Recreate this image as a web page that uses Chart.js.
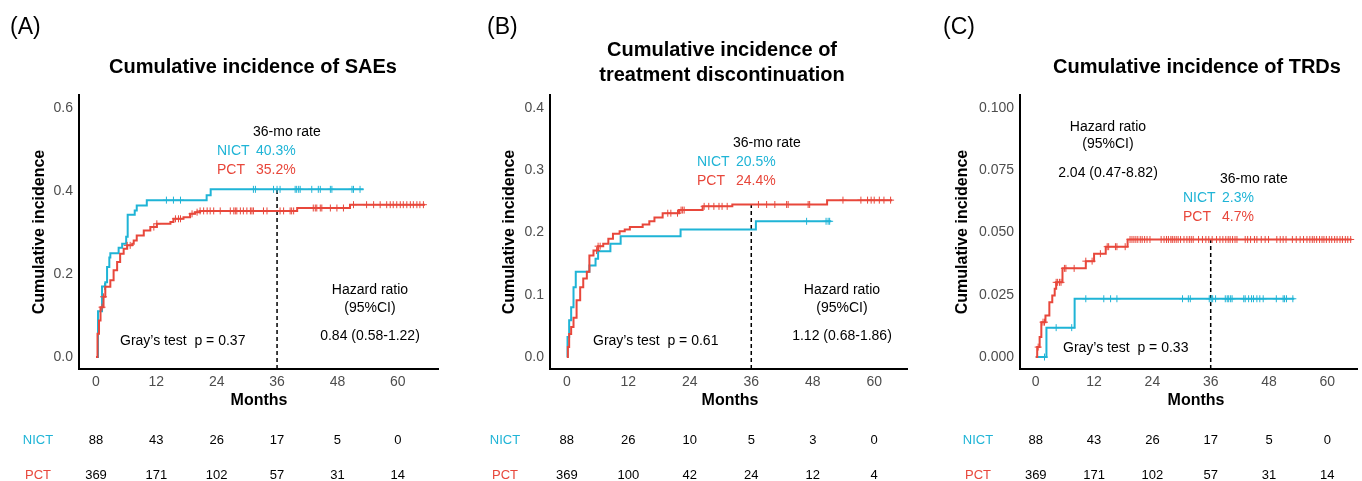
<!DOCTYPE html>
<html>
<head>
<meta charset="utf-8">
<script src="https://cdn.jsdelivr.net/npm/chart.js@4.4.1/dist/chart.umd.min.js"></script>
<style>
  body { margin: 0; background: #fff; width: 1362px; height: 481px; overflow: hidden; position: relative; }
  canvas { position: absolute; top: 0; }
</style>
</head>
<body>
<canvas id="chartA" width="450" height="481" style="left:0px"></canvas>
<canvas id="chartB" width="457" height="481" style="left:455px"></canvas>
<canvas id="chartC" width="450" height="481" style="left:912px"></canvas>
<script>
const monthTicks = [0, 12, 24, 36, 48, 60];

// (A) serious adverse events
const saeNictTime = [0, 0.4, 1.2, 1.85, 2.2, 2.65, 2.85, 4.5, 5.2, 6.0, 6.3, 7.7, 8.1, 10.1, 22.0, 22.8, 53.2];
const saeNictInc  = [0, 0.11, 0.17, 0.18, 0.217, 0.24, 0.25, 0.263, 0.273, 0.29, 0.343, 0.353, 0.365, 0.378, 0.39, 0.404, 0.404];
const saeNictCens = [1.7, 14.0, 15.4, 16.8, 31.3, 31.7, 35.3, 36.0, 36.6, 39.6, 39.9, 40.3, 40.6, 42.9, 44.2, 44.6, 46.6, 46.9, 50.9, 51.2, 52.5];
const saePctTime  = [0, 0.3, 0.6, 0.9, 1.5, 1.85, 2.85, 3.5, 4.2, 4.8, 5.5, 6.2, 7.2, 7.5, 8.1, 9.5, 10.8, 12.1, 14.8, 15.4, 17.4, 18.7, 19.7, 20.7, 40.0, 50.5, 65.4];
const saePctInc   = [0, 0.056, 0.088, 0.12, 0.145, 0.169, 0.185, 0.209, 0.229, 0.249, 0.261, 0.269, 0.273, 0.281, 0.293, 0.305, 0.313, 0.321, 0.325, 0.333, 0.337, 0.345, 0.349, 0.352, 0.359, 0.367, 0.367];
const saePctCens  = [1.2, 1.5, 6.2, 6.8, 11.5, 12.1, 15.8, 16.4, 16.8, 19.1, 20.1, 20.7, 21.4, 22.1, 22.7, 23.4, 24.7, 26.7, 27.4, 27.7, 28.0, 28.7, 29.3, 30.0, 30.7, 31.0, 31.3, 33.3, 34.0, 36.6, 37.3, 38.6, 38.9, 39.3, 43.2, 43.6, 43.9, 44.6, 44.9, 46.6, 47.9, 49.2, 51.2, 53.8, 55.2, 56.5, 57.8, 58.5, 59.1, 59.8, 60.5, 61.1, 61.8, 62.5, 63.1, 63.8, 64.4, 65.1];
const saeYTicks = [0, 0.2, 0.4, 0.6];
const saeRiskNict = [88, 43, 26, 17, 5, 0];
const saeRiskPct  = [369, 171, 102, 57, 31, 14];

// (B) treatment discontinuation
const discNictTime = [0, 0.13, 0.45, 0.84, 1.3, 1.74, 4.4, 5.6, 6.1, 8.5, 10.5, 22.2, 36.9, 51.6];
const discNictInc  = [0, 0.032, 0.059, 0.08, 0.112, 0.137, 0.147, 0.158, 0.17, 0.182, 0.194, 0.205, 0.218, 0.218];
const discNictCens = [46.8, 50.6, 51.0, 51.3];
const discPctTime  = [0, 0.2, 0.45, 0.84, 1.3, 1.9, 2.6, 3.2, 3.9, 4.4, 5.2, 6.1, 7.1, 8.1, 9.0, 10.3, 11.3, 12.3, 14.8, 16.1, 17.1, 18.7, 21.9, 26.5, 32.3, 50.8, 63.5];
const discPctInc   = [0, 0.016, 0.037, 0.048, 0.063, 0.091, 0.112, 0.126, 0.137, 0.163, 0.171, 0.178, 0.182, 0.19, 0.198, 0.202, 0.205, 0.209, 0.213, 0.218, 0.224, 0.231, 0.236, 0.242, 0.245, 0.252, 0.252];
const discPctCens  = [5.8, 6.1, 6.5, 19.7, 20.3, 21.6, 22.3, 22.6, 22.9, 26.8, 27.7, 28.7, 29.7, 30.3, 31.3, 37.4, 39.0, 40.6, 42.9, 43.2, 47.1, 47.4, 53.9, 57.4, 58.7, 59.4, 60.0, 61.0, 61.9, 63.2];
const discYTicks = [0, 0.1, 0.2, 0.3, 0.4];
const discRiskNict = [88, 26, 10, 5, 3, 0];
const discRiskPct  = [369, 100, 42, 24, 12, 4];

// (C) treatment-related deaths
const trdNictTime = [0, 2.2, 8.0, 53.2];
const trdNictInc  = [0, 0.0118, 0.0234, 0.0234];
const trdNictCens = [1.8, 4.2, 7.4, 10.3, 14.0, 15.4, 16.7, 30.2, 31.4, 31.8, 35.7, 36.1, 36.4, 37.0, 39.0, 39.4, 39.7, 40.1, 40.4, 42.8, 43.1, 43.8, 44.4, 44.8, 45.5, 46.1, 46.8, 49.5, 50.9, 51.2, 51.6, 52.9];
const trdPctTime  = [0, 0.3, 0.8, 1.15, 2.0, 2.8, 3.4, 3.9, 4.2, 5.5, 10.3, 12.0, 14.4, 18.9, 65.0];
const trdPctInc   = [0, 0.004, 0.008, 0.014, 0.0167, 0.022, 0.0247, 0.0274, 0.030, 0.0356, 0.0385, 0.0415, 0.0443, 0.0472, 0.0472];
const trdPctCens  = [0.5, 1.5, 1.8, 4.2, 4.5, 4.9, 5.2, 5.9, 6.2, 7.9, 10.3, 11.6, 13.3, 14.7, 15.0, 16.4, 16.7, 18.4,
  19.4, 19.8, 20.2, 20.6, 21.0, 21.5, 21.9, 22.4, 22.9, 23.5, 25.8, 26.4, 26.9, 27.3, 27.8, 28.1, 28.5, 28.9, 29.3, 29.8,
  30.5, 31.1, 31.6, 32.0, 32.4, 33.5, 34.3, 35.0, 35.6, 36.3, 37.2, 37.9, 38.5, 39.1, 39.6, 40.0, 40.5, 41.0, 41.4, 43.1,
  43.6, 44.2, 45.0, 45.5, 46.4, 47.2, 47.9, 49.6, 50.3, 50.9, 51.5, 52.8, 53.6, 54.4, 55.1, 55.8, 56.4, 56.9, 57.3, 57.8,
  58.4, 58.9, 59.3, 59.8, 60.4, 60.9, 61.5, 62.0, 62.6, 63.1, 63.7, 64.2, 64.8];
const trdYTicks = [0, 0.025, 0.05, 0.075, 0.1];
const trdRiskNict = [88, 43, 26, 17, 5, 0];
const trdRiskPct  = [369, 171, 102, 57, 31, 14];

const CYAN = "#1fb4d6";
const RED = "#e8473b";
const FONT = "'Liberation Sans', Arial, Helvetica, sans-serif";

function stepValue(times, inc, t) {
  let v = inc[0];
  for (let i = 0; i < times.length; i++) {
    if (times[i] <= t) v = inc[i];
  }
  return v;
}

function makePanel(p) {
  const canvas = document.getElementById(p.id);
  const peak36 = Math.max(stepValue(p.nict.time, p.nict.inc, 36), stepValue(p.pct.time, p.pct.inc, 36));

  const curve = (g, color) => ({
    data: g.time.map((t, i) => ({ x: t, y: g.inc[i] })),
    borderColor: color, borderWidth: 2, stepped: true, pointRadius: 0, fill: false
  });
  const marks = (g, color) => ({
    data: g.cens.map(t => ({ x: t, y: stepValue(g.time, g.inc, t) })),
    showLine: false, pointStyle: "cross", pointRadius: 3.5, pointBorderWidth: 1,
    borderColor: color, backgroundColor: color
  });

  const textPlugin = {
    id: "panelText",
    afterDraw(chart) {
      const ctx = chart.ctx;
      ctx.save();
      ctx.textBaseline = "middle";
      p.texts.forEach(t => {
        ctx.font = t.font || "14px " + FONT;
        ctx.fillStyle = t.color || "#000";
        ctx.textAlign = t.align || "left";
        ctx.fillText(t.text, t.x - p.left, t.y);
      });
      // y axis title
      ctx.save();
      ctx.translate(p.yTitleX - p.left, 232);
      ctx.rotate(-Math.PI / 2);
      ctx.font = "bold 16px " + FONT;
      ctx.fillStyle = "#000";
      ctx.textAlign = "center";
      ctx.fillText("Cumulative incidence", 0, 0);
      ctx.restore();
      // x axis title
      ctx.font = "bold 16px " + FONT;
      ctx.textAlign = "center";
      ctx.fillText("Months", p.xTitleX - p.left, 401);
      // risk table
      ctx.font = "13px " + FONT;
      ctx.fillStyle = CYAN;
      ctx.fillText("NICT", p.riskLabelX - p.left, 440);
      ctx.fillStyle = RED;
      ctx.fillText("PCT", p.riskLabelX - p.left, 475);
      ctx.fillStyle = "#000";
      monthTicks.forEach((m, i) => {
        const x = chart.scales.x.getPixelForValue(m);
        ctx.fillText(String(p.riskNict[i]), x, 440);
        ctx.fillText(String(p.riskPct[i]), x, 475);
      });
      ctx.restore();
    }
  };

  return new Chart(canvas, {
    type: "line",
    data: {
      datasets: [
        curve(p.pct, RED), marks(p.pct, RED),
        curve(p.nict, CYAN), marks(p.nict, CYAN),
        { data: [{ x: 36, y: p.yMin }, { x: 36, y: peak36 }], borderColor: "#000", borderWidth: 1.5,
          borderDash: [4, 3], pointRadius: 0 }
      ]
    },
    options: {
      responsive: false,
      animation: false,
      events: [],
      layout: { padding: { top: 95, right: p.padRight, left: 0, bottom: 0 } },
      plugins: { legend: { display: false }, tooltip: { enabled: false } },
      scales: {
        x: {
          type: "linear", min: p.xMin, max: p.xMax,
          afterBuildTicks: s => { s.ticks = monthTicks.map(v => ({ value: v })); },
          afterFit: s => { s.height = 112; },
          grid: { display: false, drawTicks: false },
          border: { color: "#000", width: 2 },
          ticks: { color: "#4d4d4d", font: { size: 14, family: FONT }, padding: 5, maxRotation: 0, autoSkip: false,
                   callback: v => String(v) }
        },
        y: {
          type: "linear", min: p.yMin, max: p.yMax,
          afterBuildTicks: s => { s.ticks = p.yTicks.map(v => ({ value: v })); },
          afterFit: s => { s.width = p.yAxisW; },
          grid: { display: false, drawTicks: false },
          border: { color: "#000", width: 2 },
          ticks: { color: "#4d4d4d", font: { size: 14, family: FONT }, padding: 6, autoSkip: false,
                   callback: v => Number(v).toFixed(p.decimals) }
        }
      }
    },
    plugins: [textPlugin]
  });
}

makePanel({
  id: "chartA", left: 0, yAxisW: 79, padRight: 12,
  xMin: -3.38, xMax: 68.0, yMin: -0.0289, yMax: 0.6313, yTicks: saeYTicks, decimals: 1,
  nict: { time: saeNictTime, inc: saeNictInc, cens: saeNictCens },
  pct: { time: saePctTime, inc: saePctInc, cens: saePctCens },
  riskNict: saeRiskNict, riskPct: saeRiskPct,
  yTitleX: 40, xTitleX: 259, riskLabelX: 38,
  texts: [
    { text: "(A)", x: 10, y: 28, font: "23px " + FONT },
    { text: "Cumulative incidence of SAEs", x: 253, y: 67, align: "center", font: "bold 20px " + FONT },
    { text: "36-mo rate", x: 253, y: 132 },
    { text: "NICT", x: 217, y: 151, color: CYAN },
    { text: "40.3%", x: 256, y: 151, color: CYAN },
    { text: "PCT", x: 217, y: 170, color: RED },
    { text: "35.2%", x: 256, y: 170, color: RED },
    { text: "Hazard ratio", x: 370, y: 290, align: "center" },
    { text: "(95%CI)", x: 370, y: 308, align: "center" },
    { text: "0.84 (0.58-1.22)", x: 370, y: 336, align: "center" },
    { text: "Gray\u2019s test  p = 0.37", x: 120, y: 341 }
  ]
});

makePanel({
  id: "chartB", left: 455, yAxisW: 95, padRight: 2,
  xMin: -3.29, xMax: 66.4, yMin: -0.0193, yMax: 0.4209, yTicks: discYTicks, decimals: 1,
  nict: { time: discNictTime, inc: discNictInc, cens: discNictCens },
  pct: { time: discPctTime, inc: discPctInc, cens: discPctCens },
  riskNict: discRiskNict, riskPct: discRiskPct,
  yTitleX: 510, xTitleX: 730, riskLabelX: 505,
  texts: [
    { text: "(B)", x: 487, y: 28, font: "23px " + FONT },
    { text: "Cumulative incidence of", x: 722, y: 50, align: "center", font: "bold 20px " + FONT },
    { text: "treatment discontinuation", x: 722, y: 75, align: "center", font: "bold 20px " + FONT },
    { text: "36-mo rate", x: 733, y: 143 },
    { text: "NICT", x: 697, y: 162, color: CYAN },
    { text: "20.5%", x: 736, y: 162, color: CYAN },
    { text: "PCT", x: 697, y: 181, color: RED },
    { text: "24.4%", x: 736, y: 181, color: RED },
    { text: "Hazard ratio", x: 842, y: 290, align: "center" },
    { text: "(95%CI)", x: 842, y: 308, align: "center" },
    { text: "1.12 (0.68-1.86)", x: 842, y: 336, align: "center" },
    { text: "Gray\u2019s test  p = 0.61", x: 593, y: 341 }
  ]
});

makePanel({
  id: "chartC", left: 912, yAxisW: 108, padRight: 0,
  xMin: -3.24, xMax: 66.1, yMin: -0.0048, yMax: 0.1052, yTicks: trdYTicks, decimals: 3,
  nict: { time: trdNictTime, inc: trdNictInc, cens: trdNictCens },
  pct: { time: trdPctTime, inc: trdPctInc, cens: trdPctCens },
  riskNict: trdRiskNict, riskPct: trdRiskPct,
  yTitleX: 963, xTitleX: 1196, riskLabelX: 978,
  texts: [
    { text: "(C)", x: 943, y: 28, font: "23px " + FONT },
    { text: "Cumulative incidence of TRDs", x: 1197, y: 67, align: "center", font: "bold 20px " + FONT },
    { text: "Hazard ratio", x: 1108, y: 127, align: "center" },
    { text: "(95%CI)", x: 1108, y: 144, align: "center" },
    { text: "2.04 (0.47-8.82)", x: 1108, y: 173, align: "center" },
    { text: "36-mo rate", x: 1220, y: 179 },
    { text: "NICT", x: 1183, y: 198, color: CYAN },
    { text: "2.3%", x: 1222, y: 198, color: CYAN },
    { text: "PCT", x: 1183, y: 217, color: RED },
    { text: "4.7%", x: 1222, y: 217, color: RED },
    { text: "Gray\u2019s test  p = 0.33", x: 1063, y: 348 }
  ]
});
</script>
</body>
</html>
